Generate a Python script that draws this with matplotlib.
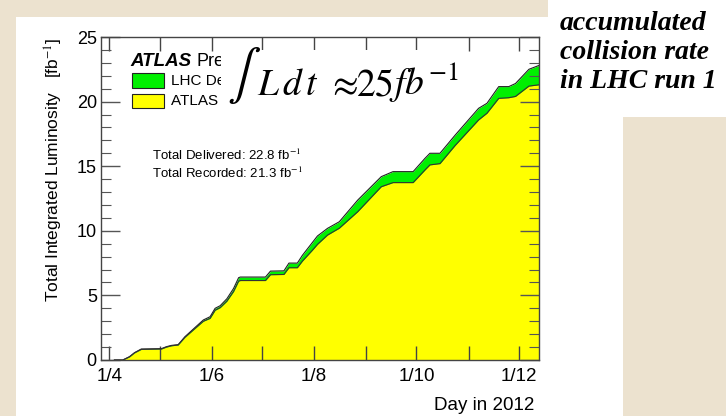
import numpy as np
import matplotlib
matplotlib.use("Agg")
import matplotlib.pyplot as plt
from matplotlib.patches import Rectangle
from matplotlib.ticker import MultipleLocator

# cumulative luminosity, 2012 pp run
dates = ["2012-04-04", "2012-04-09", "2012-04-13", "2012-04-16", "2012-04-20",
         "2012-05-02", "2012-05-05", "2012-05-08", "2012-05-12", "2012-05-16",
         "2012-05-23", "2012-05-27", "2012-05-31", "2012-06-03", "2012-06-06",
         "2012-06-10", "2012-06-14", "2012-06-17", "2012-06-18", "2012-07-03",
         "2012-07-06", "2012-07-14", "2012-07-17", "2012-07-22", "2012-07-25",
         "2012-07-31", "2012-08-03", "2012-08-09", "2012-08-16", "2012-08-27",
         "2012-09-10", "2012-09-17", "2012-09-29", "2012-10-06", "2012-10-09",
         "2012-10-15", "2012-10-24", "2012-11-07", "2012-11-12", "2012-11-19",
         "2012-11-25", "2012-11-29", "2012-12-07", "2012-12-13"]
delivered = [0, 0, 0.26, 0.57, 0.85, 0.88, 1.03, 1.13, 1.19, 1.80,
             2.63, 3.10, 3.35, 4.00, 4.20, 4.74, 5.54, 6.37, 6.42, 6.42,
             6.88, 6.90, 7.50, 7.50, 8.10, 9.10, 9.60, 10.19, 10.70, 12.38,
             14.19, 14.58, 14.58, 15.60, 16.00, 16.00, 17.40, 19.48, 19.87, 21.16,
             21.16, 21.40, 22.50, 22.80]
recorded = [0, 0, 0.24, 0.55, 0.82, 0.85, 1.00, 1.10, 1.16, 1.75,
            2.55, 3.00, 3.22, 3.85, 4.05, 4.55, 5.30, 6.10, 6.15, 6.15,
            6.60, 6.62, 7.14, 7.14, 7.65, 8.50, 8.95, 9.67, 10.20, 11.48,
            13.41, 13.73, 13.73, 14.70, 15.10, 15.20, 16.60, 18.58, 19.10, 20.25,
            20.30, 20.40, 21.20, 21.30]

month_ticks = np.arange("2012-04", "2013-01", dtype="datetime64[M]").astype("datetime64[D]")
month_labels = ["1/4", "", "1/6", "", "1/8", "", "1/10", "", "1/12"]
y_major = [0, 5, 10, 15, 20, 25]

W, H = 726, 416

def fx(px):
    return px / W

def fy(py):
    return 1 - py / H

x = np.array(dates, dtype="datetime64[D]")
plt.rcParams["mathtext.fontset"] = "stix"

fig = plt.figure(figsize=(W / 100, H / 100), dpi=100)
fig.patch.set_facecolor("#ece2cf")

# white panels behind the plot and the caption
fig.patches.append(Rectangle((fx(16), 0), fx(623) - fx(16), fy(17), transform=fig.transFigure,
                             facecolor="white", edgecolor="none", zorder=-2))
fig.patches.append(Rectangle((fx(548), fy(117)), 1 - fx(548), 1 - fy(117), transform=fig.transFigure,
                             facecolor="white", edgecolor="none", zorder=-2))

ax = fig.add_axes([fx(101), fy(360), fx(539) - fx(101), fy(37) - fy(360)])
ax.set_facecolor("white")

ax.fill_between(x, delivered, color="#00f000", lw=0)
ax.fill_between(x, recorded, color="#ffff00", lw=0)
ax.plot(x, delivered, color="#222222", lw=0.8)
ax.plot(x, recorded, color="#333333", lw=0.8)

ax.set_xlim(np.datetime64("2012-03-27"), np.datetime64("2012-12-13"))
ax.set_ylim(0, 25)
ax.set_xticks(month_ticks)
ax.set_xticklabels(month_labels, fontsize=13.5, family="Liberation Sans")
ax.set_yticks(y_major)
ax.set_yticklabels([str(v) for v in y_major], fontsize=13, family="Liberation Sans")
ax.yaxis.set_minor_locator(MultipleLocator(1))
ax.tick_params(axis="x", which="major", direction="in", length=10, width=1,
               top=True, color="#444444", pad=6)
ax.tick_params(axis="y", which="major", direction="in", length=14, width=1,
               right=True, color="#555555", pad=3)
ax.tick_params(axis="y", which="minor", direction="in", length=7, width=0.8,
               right=True, color="#555555")
for s in ax.spines.values():
    s.set_color("#444444")
    s.set_linewidth(1)

fig.text(fx(54), fy(38), "Total Integrated Luminosity   [fb$^{-1}$]", rotation=90,
         ha="center", va="top", fontsize=12.5, family="Liberation Sans")
fig.text(fx(534), fy(405), "Day in 2012", ha="right", va="center",
         fontsize=13.5, family="Liberation Sans")

# legend block
fig.text(fx(130), fy(61), "ATLAS", ha="left", va="center", fontsize=13.5,
         family="Liberation Sans", weight="bold", style="italic")
fig.text(fx(196), fy(61), "Preliminary", ha="left", va="center", fontsize=13,
         family="Liberation Sans")
fig.patches.append(Rectangle((fx(132), fy(88)), fx(164) - fx(132), fy(73) - fy(88),
                             transform=fig.transFigure, facecolor="#00f000",
                             edgecolor="#222222", lw=0.8, zorder=3))
fig.patches.append(Rectangle((fx(132), fy(108)), fx(164) - fx(132), fy(94) - fy(108),
                             transform=fig.transFigure, facecolor="#ffff00",
                             edgecolor="#222222", lw=0.8, zorder=3))
fig.text(fx(171), fy(81), "LHC Delivered", ha="left", va="center", fontsize=11,
         family="Liberation Sans")
fig.text(fx(171), fy(101), "ATLAS Ready Recorded", ha="left", va="center", fontsize=11,
         family="Liberation Sans")

fig.text(fx(152), fy(155), "Total Delivered: %.1f fb$^{-1}$" % delivered[-1],
         ha="left", va="center", fontsize=9.5, family="Liberation Sans")
fig.text(fx(152), fy(173), "Total Recorded: %.1f fb$^{-1}$" % recorded[-1],
         ha="left", va="center", fontsize=9.5, family="Liberation Sans")

# big formula on a white card
fig.patches.append(Rectangle((fx(221), fy(112)), fx(460) - fx(221), fy(50) - fy(112),
                             transform=fig.transFigure, facecolor="white",
                             edgecolor="none", zorder=5))
fig.text(fx(227), fy(76), r"$\int$", ha="left", va="center", fontsize=36, zorder=6)
for label, px in [(r"$L\,d\,t$", 257), (r"$\approx$", 327), (r"$25$", 356), (r"$fb^{-1}$", 389)]:
    fig.text(fx(px), fy(95), label, ha="left", va="baseline", fontsize=27, zorder=6)

# caption at the right
fig.text(fx(560), fy(11), "accumulated\ncollision rate\nin LHC run 1", ha="left", va="top",
         fontsize=20, family="Liberation Serif", weight="bold", style="italic",
         linespacing=1.2)

fig.savefig("out.png", dpi=100, facecolor=fig.get_facecolor())
